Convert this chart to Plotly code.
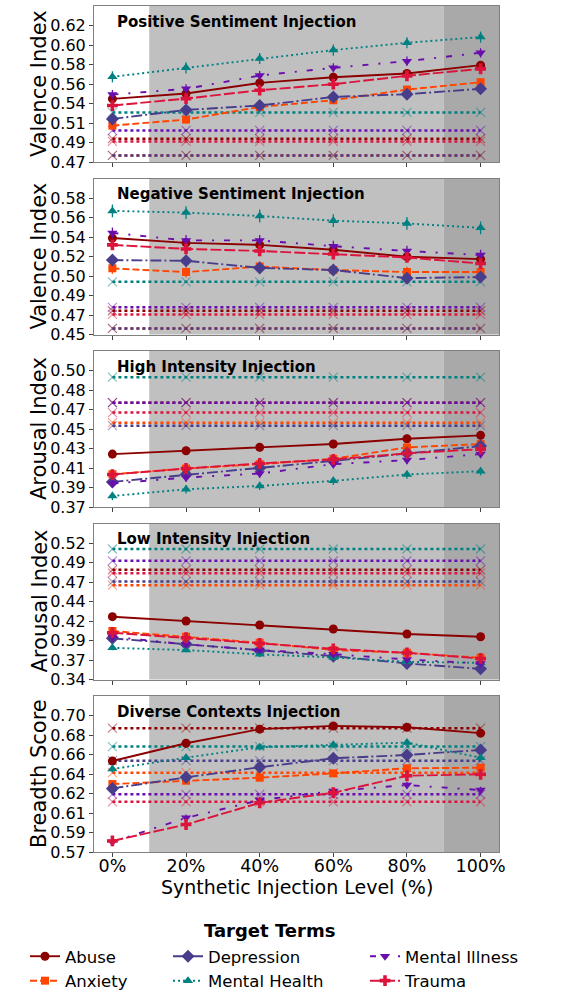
import numpy as np
import plotly.graph_objects as go

# ---- data -------------------------------------------------------------
levels = [0, 20, 40, 60, 80, 100]
level_labels = ["0%", "20%", "40%", "60%", "80%", "100%"]
terms = ["Abuse", "Anxiety", "Depression", "Mental Health", "Mental Illness", "Trauma"]

positive_sentiment = {
    "Abuse":          [0.5405, 0.5462, 0.5577, 0.5638, 0.5678, 0.5768],
    "Anxiety":        [0.5117, 0.5182, 0.5318, 0.5390, 0.5505, 0.5584],
    "Depression":     [0.5189, 0.5286, 0.5333, 0.5426, 0.5455, 0.5513],
    "Mental Health":  [0.5642, 0.5739, 0.5840, 0.5930, 0.6009, 0.6070],
    "Mental Illness": [0.5451, 0.5513, 0.5656, 0.5739, 0.5811, 0.5901],
    "Trauma":         [0.5333, 0.5408, 0.5498, 0.5563, 0.5653, 0.5728],
}
negative_sentiment = {
    "Abuse":          [0.5400, 0.5355, 0.5336, 0.5291, 0.5225, 0.5202],
    "Anxiety":        [0.5116, 0.5081, 0.5132, 0.5100, 0.5081, 0.5081],
    "Depression":     [0.5193, 0.5187, 0.5120, 0.5100, 0.5024, 0.5034],
    "Mental Health":  [0.5655, 0.5639, 0.5607, 0.5563, 0.5537, 0.5496],
    "Mental Illness": [0.5448, 0.5378, 0.5378, 0.5324, 0.5279, 0.5241],
    "Trauma":         [0.5336, 0.5298, 0.5279, 0.5250, 0.5218, 0.5161],
}
high_intensity = {
    "Abuse":          [0.4225, 0.4257, 0.4290, 0.4322, 0.4373, 0.4406],
    "Anxiety":        [0.4031, 0.4086, 0.4128, 0.4179, 0.4290, 0.4322],
    "Depression":     [0.3957, 0.4028, 0.4092, 0.4160, 0.4232, 0.4302],
    "Mental Health":  [0.3821, 0.3886, 0.3918, 0.3967, 0.4028, 0.4060],
    "Mental Illness": [0.3941, 0.3999, 0.4038, 0.4128, 0.4167, 0.4225],
    "Trauma":         [0.4028, 0.4086, 0.4135, 0.4174, 0.4232, 0.4273],
}
low_intensity = {
    "Abuse":          [0.4235, 0.4179, 0.4127, 0.4075, 0.4010, 0.3975],
    "Anxiety":        [0.4049, 0.3975, 0.3897, 0.3802, 0.3766, 0.3701],
    "Depression":     [0.3954, 0.3876, 0.3792, 0.3723, 0.3628, 0.3558],
    "Mental Health":  [0.3831, 0.3802, 0.3746, 0.3706, 0.3649, 0.3636],
    "Mental Illness": [0.3975, 0.3876, 0.3802, 0.3749, 0.3680, 0.3628],
    "Trauma":         [0.4027, 0.3962, 0.3889, 0.3818, 0.3766, 0.3693],
}
diverse_contexts = {
    "Abuse":          [0.6540, 0.6704, 0.6834, 0.6864, 0.6852, 0.6797],
    "Anxiety":        [0.6327, 0.6358, 0.6386, 0.6426, 0.6473, 0.6478],
    "Depression":     [0.6287, 0.6389, 0.6482, 0.6565, 0.6596, 0.6642],
    "Mental Health":  [0.6466, 0.6571, 0.6667, 0.6689, 0.6710, 0.6571],
    "Mental Illness": [0.5793, 0.6015, 0.6179, 0.6262, 0.6318, 0.6272],
    "Trauma":         [0.5802, 0.5954, 0.6154, 0.6247, 0.6404, 0.6417],
}

# baseline (non-injected) score per term, order as in `terms`
baseline_positive = [0.4976, 0.4796, 0.4796, 0.5259, 0.5065, 0.4947]
baseline_negative = [0.4718, 0.4552, 0.4552, 0.4989, 0.4750, 0.4683]
baseline_high = [0.4721, 0.4528, 0.4499, 0.4967, 0.4721, 0.4625]
baseline_low = [0.4843, 0.4644, 0.4691, 0.5113, 0.4960, 0.4800]
baseline_diverse = [0.6843, 0.6432, 0.6543, 0.6673, 0.6232, 0.6163]

# standard errors per term
err_positive = [0.004, 0.004, 0.004, 0.006, 0.005, 0.004]
err_negative = [0.004, 0.005, 0.005, 0.006, 0.005, 0.004]
err_high = [0.004, 0.003, 0.003, 0.004, 0.004, 0.003]
err_low = [0.004, 0.003, 0.003, 0.003, 0.003, 0.003]
err_diverse = [0.002, 0.002, 0.003, 0.003, 0.003, 0.002]

yticks_positive = ["0.47", "0.49", "0.51", "0.54", "0.56", "0.58", "0.60", "0.62"]
yticks_negative = ["0.45", "0.47", "0.49", "0.50", "0.52", "0.54", "0.56", "0.58"]
yticks_high = ["0.37", "0.39", "0.41", "0.43", "0.45", "0.47", "0.48", "0.50"]
yticks_low = ["0.34", "0.37", "0.39", "0.42", "0.44", "0.47", "0.49", "0.52"]
yticks_diverse = ["0.57", "0.59", "0.61", "0.62", "0.64", "0.66", "0.68", "0.70"]

# ---- styling ----------------------------------------------------------
colors = {
    "Abuse": "#8B0000",
    "Anxiety": "#FF4500",
    "Depression": "#483D8B",
    "Mental Health": "#008080",
    "Mental Illness": "#6A0DAD",
    "Trauma": "#DC143C",
}
dashes = {
    "Abuse": "solid",
    "Anxiety": "7px,3px",
    "Depression": "11px,3px,2px,3px",
    "Mental Health": "2px,3px",
    "Mental Illness": "6px,10px,2px,10px",
    "Trauma": "11px,3px",
}
symbols = {
    "Abuse": "circle",
    "Anxiety": "square",
    "Depression": "diamond",
    "Mental Health": "triangle-up",
    "Mental Illness": "triangle-down",
    "Trauma": "cross",
}
msize = {"Abuse": 9, "Anxiety": 8, "Depression": 10, "Mental Health": 9,
         "Mental Illness": 9, "Trauma": 9}
legend_of = {"Abuse": "legend", "Anxiety": "legend",
             "Depression": "legend2", "Mental Health": "legend2",
             "Mental Illness": "legend3", "Trauma": "legend3"}


def rgba(hex_color, a):
    h = hex_color.lstrip("#")
    r, g, b = int(h[0:2], 16), int(h[2:4], 16), int(h[4:6], 16)
    return f"rgba({r},{g},{b},{a})"


panels = [
    ("Positive Sentiment Injection", "Valence Index", positive_sentiment,
     baseline_positive, err_positive, yticks_positive, 0.4725, 0.0210),
    ("Negative Sentiment Injection", "Valence Index", negative_sentiment,
     baseline_negative, err_negative, yticks_negative, 0.4495, 0.0183),
    ("High Intensity Injection", "Arousal Index", high_intensity,
     baseline_high, err_high, yticks_high, 0.3715, 0.0188),
    ("Low Intensity Injection", "Arousal Index", low_intensity,
     baseline_low, err_low, yticks_low, 0.3420, 0.0253),
    ("Diverse Contexts Injection", "Breadth Score", diverse_contexts,
     baseline_diverse, err_diverse, yticks_diverse, 0.5700, 0.0180),
]

W, H = 583, 998
ML, MR = 94, 84
plot_w = W - ML - MR
panel_top = [6, 178.5, 351, 523.5, 696]
panel_h = 156
FONT = "DejaVu Sans"

fig = go.Figure()
layout = dict(
    width=W, height=H,
    margin=dict(l=ML, r=MR, t=0, b=0, autoexpand=False),
    paper_bgcolor="white", plot_bgcolor="white",
    font=dict(family=FONT, color="black"),
    showlegend=True,
)
shapes, annotations = [], []

for i, (title, ylab, data, base, err, ytxt, lo, step) in enumerate(panels):
    n = i + 1
    xa = "x" if n == 1 else f"x{n}"
    ya = "y" if n == 1 else f"y{n}"
    top = panel_top[i]
    dom = [1 - (top + panel_h) / H, 1 - top / H]
    last = n == len(panels)

    layout["xaxis" if n == 1 else f"xaxis{n}"] = dict(
        domain=[0, 1], anchor=ya, range=[-5, 105],
        tickvals=levels, ticktext=level_labels, showticklabels=last,
        ticks="outside", ticklen=4, tickcolor="#444",
        tickfont=dict(size=17.5), ticklabelstandoff=-6,
        showline=True, mirror=True, linecolor="#808080", linewidth=1,
        showgrid=False, zeroline=False,
    )
    tickvals = [lo + step * k for k in range(len(ytxt))]
    layout["yaxis" if n == 1 else f"yaxis{n}"] = dict(
        domain=dom, anchor=xa, range=[lo, lo + step * 8],
        tickvals=tickvals, ticktext=ytxt,
        ticks="outside", ticklen=4, tickcolor="#444",
        tickfont=dict(size=16),
        showline=True, mirror=True, linecolor="#808080", linewidth=1,
        showgrid=False, zeroline=False,
    )

    # shaded injection phases
    for x0, x1, col in [(10, 90, "#c0c0c0"), (90, 105, "#a9a9a9")]:
        shapes.append(dict(type="rect", xref=xa, yref=f"{ya} domain",
                           x0=x0, x1=x1, y0=0, y1=1, fillcolor=col,
                           line=dict(width=0), layer="below"))

    # baselines
    for k, term in enumerate(terms):
        fig.add_trace(go.Scatter(
            x=levels, y=[base[k]] * len(levels), xaxis=xa, yaxis=ya,
            mode="lines+markers", showlegend=False, hoverinfo="skip",
            line=dict(color=colors[term], width=2.5, dash="3px,3px"),
            marker=dict(symbol="x-thin-open", size=9,
                        color=rgba(colors[term], 0.5),
                        line=dict(width=1.1, color=rgba(colors[term], 0.5))),
        ))

    # injected series
    for k, term in enumerate(terms):
        fig.add_trace(go.Scatter(
            x=levels, y=data[term], xaxis=xa, yaxis=ya, name=term,
            mode="lines+markers",
            showlegend=(n == 1), legend=legend_of[term],
            line=dict(color=colors[term], width=1.9, dash=dashes[term]),
            marker=dict(symbol=symbols[term], size=msize[term],
                        color=colors[term], line=dict(width=0)),
            error_y=dict(type="constant", value=err[k], color=colors[term],
                         thickness=1.3, width=0),
        ))

    annotations.append(dict(
        text=f"<b>{title}</b>", xref=f"{xa} domain", yref=f"{ya} domain",
        x=0.053, y=1 - 15.7 / panel_h, xanchor="left", yanchor="middle",
        showarrow=False, font=dict(size=15, family=FONT, color="black")))
    annotations.append(dict(
        text=ylab, xref="paper", yref=f"{ya} domain",
        x=(39 - ML) / plot_w, y=0.5, xanchor="center", yanchor="middle",
        textangle=-90, showarrow=False, font=dict(size=21, family=FONT)))

annotations.append(dict(
    text="Synthetic Injection Level (%)", xref="paper", yref="paper",
    x=0.5, y=1 - 887 / H, xanchor="center", yanchor="middle",
    showarrow=False, font=dict(size=19, family=FONT)))
annotations.append(dict(
    text="<b>Target Terms</b>", xref="paper", yref="paper",
    x=(269 - ML) / plot_w, y=1 - 930.5 / H, xanchor="center", yanchor="middle",
    showarrow=False, font=dict(size=18, family=FONT)))

leg_common = dict(orientation="v", yanchor="bottom", y=0.0,
                  xanchor="left", bgcolor="rgba(0,0,0,0)",
                  font=dict(size=16.5, family=FONT), itemwidth=30,
                  tracegroupgap=0)
layout["legend"] = dict(leg_common, x=(25 - ML) / plot_w)
layout["legend2"] = dict(leg_common, x=(168 - ML) / plot_w)
layout["legend3"] = dict(leg_common, x=(365 - ML) / plot_w)
layout["shapes"] = shapes
layout["annotations"] = annotations

fig.update_layout(**layout)
fig.write_html("out.html")
